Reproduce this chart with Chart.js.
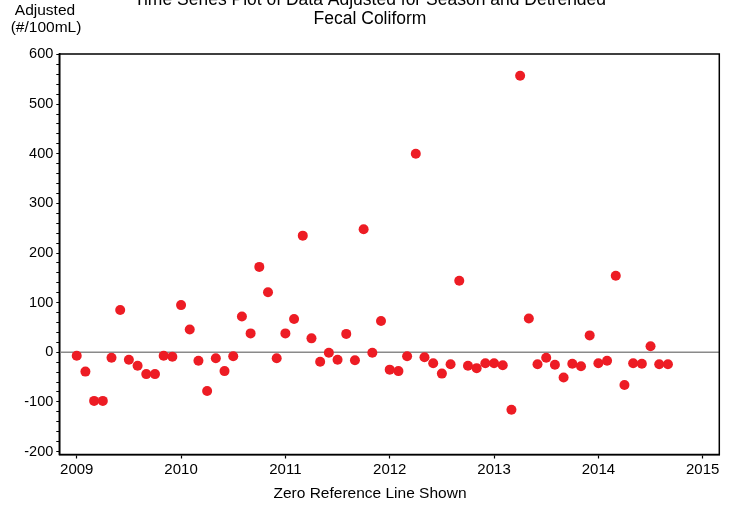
<!DOCTYPE html>
<html><head><meta charset="utf-8">
<script src="https://cdn.jsdelivr.net/npm/chart.js@4.4.1/dist/chart.umd.min.js"></script>
<style>html,body{margin:0;padding:0;background:#fff}</style>
</head><body>
<canvas id="c" width="740" height="507"></canvas>
<script>
// ---- data ----
const months = [
 '2009-01','2009-02','2009-03','2009-04','2009-05','2009-06','2009-07','2009-08','2009-09','2009-10','2009-11','2009-12',
 '2010-01','2010-02','2010-03','2010-04','2010-05','2010-06','2010-07','2010-08','2010-09','2010-10','2010-11','2010-12',
 '2011-01','2011-02','2011-03','2011-04','2011-05','2011-06','2011-07','2011-08','2011-09','2011-10','2011-11','2011-12',
 '2012-01','2012-02','2012-03','2012-04','2012-05','2012-06','2012-07','2012-08','2012-09','2012-10','2012-11','2012-12',
 '2013-01','2013-02','2013-03','2013-04','2013-05','2013-06','2013-07','2013-08','2013-09','2013-10','2013-11','2013-12',
 '2014-01','2014-02','2014-03','2014-04','2014-05','2014-06','2014-07','2014-08','2014-09'
];
const adjusted = [
 -7,-39,-98,-98,-11,85,-15,-27,-44,-44,-7,-9,
 95,46,-17,-78,-12,-38,-8,72,38,172,121,-12,
 38,67,235,28,-19,-1,-15,37,-16,248,-1,63,
 -35,-38,-8,400,-10,-22,-43,-24,144,-27,-32,-22,
 -22,-26,-116,557,68,-24,-11,-25,-51,-23,-28,34,
 -22,-17,154,-66,-22,-23,12,-24,-24
];
const xTickLabels = [2009, 2010, 2011, 2012, 2013, 2014, 2015];
const yTickLabels = [-200, -100, 0, 100, 200, 300, 400, 500, 600];
const titleLines = ['Time Series Plot of Data Adjusted for Season and Detrended', 'Fecal Coliform'];
const yAxisLabel = ['Adjusted', '(#/100mL)'];
const xAxisLabel = 'Zero Reference Line Shown';

// ---- build ----
const toYear = s => { const [y, m] = s.split('-').map(Number); return y + (m - 1) / 12; };
const points = months.map((m, i) => ({ x: toYear(m), y: adjusted[i] }));
const yMinor = [];
for (let v = yTickLabels[0]; v <= yTickLabels[yTickLabels.length - 1]; v += 20) yMinor.push(v);

const FONT = "'Liberation Sans', Arial, sans-serif";

const framePlugin = {
  id: 'frame',
  beforeDatasetsDraw(chart) {
    const { ctx, chartArea: a, scales } = chart;
    const y0 = scales.y.getPixelForValue(0);
    ctx.save();
    ctx.strokeStyle = '#8a8a8a';
    ctx.lineWidth = 1.5;
    ctx.beginPath();
    ctx.moveTo(a.left, y0);
    ctx.lineTo(a.right, y0);
    ctx.stroke();
    ctx.restore();
  },
  afterDraw(chart) {
    const { ctx, chartArea: a } = chart;
    ctx.save();
    ctx.strokeStyle = '#000';
    ctx.lineWidth = 1.5;
    ctx.strokeRect(a.left, a.top, a.right - a.left, a.bottom - a.top);
    ctx.fillStyle = '#000';
    ctx.font = '15.5px ' + FONT;
    ctx.textAlign = 'center';
    ctx.textBaseline = 'middle';
    ctx.fillText(yAxisLabel[0], 45, 11);
    ctx.fillText(yAxisLabel[1], 46, 28);
    ctx.restore();
  }
};

new Chart(document.getElementById('c'), {
  type: 'scatter',
  data: {
    datasets: [{
      data: points,
      backgroundColor: '#ED1C24',
      borderWidth: 0,
      pointRadius: 5,
      pointHoverRadius: 5
    }]
  },
  options: {
    responsive: false,
    animation: false,
    layout: { padding: 0 },
    plugins: {
      legend: { display: false },
      tooltip: { enabled: false },
      title: {
        display: true,
        text: titleLines,
        color: '#000',
        font: { family: FONT, size: 17.5, weight: 'normal', lineHeight: 1.1 },
        padding: { top: -9.6, bottom: 25.1 }
      },
      subtitle: {
        display: true,
        position: 'bottom',
        text: xAxisLabel,
        color: '#000',
        font: { family: FONT, size: 15.5, weight: 'normal', lineHeight: 1.2 },
        padding: { top: 4.2, bottom: 3.7 }
      }
    },
    scales: {
      x: {
        type: 'linear',
        min: 2008.833,
        max: 2015.159,
        afterBuildTicks: s => { s.ticks = xTickLabels.map(v => ({ value: v })); },
        afterFit: s => { s.height = 26; },
        grid: { display: true, drawOnChartArea: false, drawTicks: true, tickLength: 4, tickColor: '#000', tickWidth: 1.2 },
        border: { display: true, color: '#000', width: 1.5 },
        ticks: { color: '#000', padding: 2, font: { family: FONT, size: 15 }, maxRotation: 0, callback: v => String(v) }
      },
      y: {
        type: 'linear',
        min: -206,
        max: 601,
        afterBuildTicks: s => { s.ticks = yMinor.map(v => ({ value: v })); },
        afterFit: s => { s.width = 59.3; },
        grid: { display: true, drawOnChartArea: false, drawTicks: true, tickLength: 3, tickColor: '#000', tickWidth: 1 },
        border: { display: true, color: '#000', width: 1.5 },
        ticks: { color: '#000', padding: 3, font: { family: FONT, size: 14.5 }, autoSkip: false,
          callback: v => (yTickLabels.includes(v) ? String(v) : '') }
      },
      yR: {
        type: 'linear',
        position: 'right',
        display: true,
        grid: { display: false },
        border: { display: false },
        ticks: { display: false },
        afterFit: s => { s.width = 20.7; }
      }
    }
  },
  plugins: [framePlugin]
});
</script>
</body></html>
